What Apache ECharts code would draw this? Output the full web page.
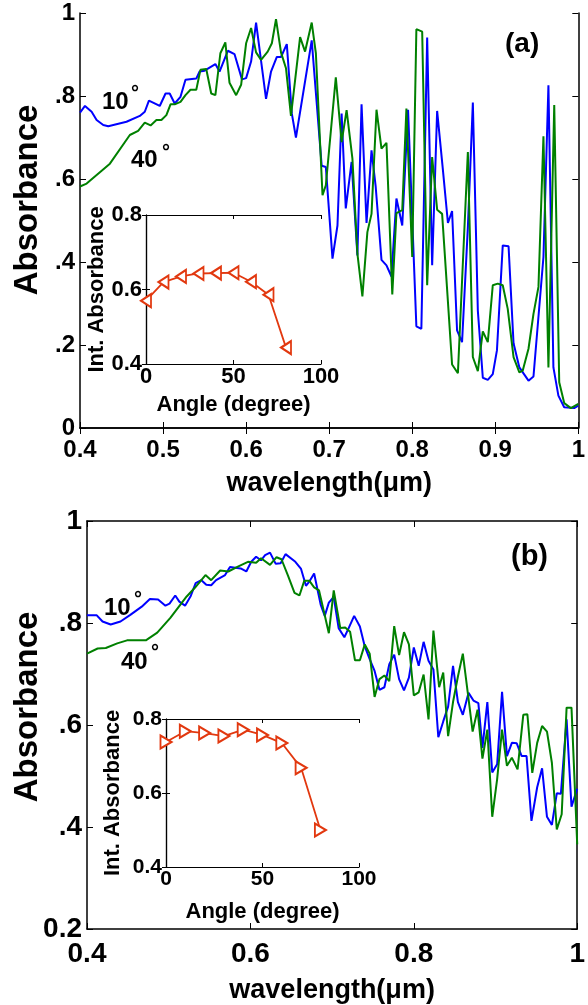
<!DOCTYPE html>
<html>
<head>
<meta charset="utf-8">
<script src="https://cdn.jsdelivr.net/npm/echarts@6/dist/echarts.min.js"></script>
<style>
  html, body { margin: 0; padding: 0; background: #fff; }
  #chart { width: 588px; height: 1005px; }
</style>
</head>
<body>
<div id="chart"></div>
<script>
// (a) 吸收谱 10° / 40°
const wlA10 = [0.400, 0.406, 0.414, 0.420, 0.428, 0.434, 0.456, 0.472, 0.478, 0.483, 0.496, 0.503, 0.508, 0.514, 0.521, 0.527, 0.540, 0.544, 0.550, 0.563, 0.568, 0.578, 0.586, 0.595, 0.600, 0.606, 0.612, 0.624, 0.630, 0.637, 0.642, 0.649, 0.655, 0.660, 0.679, 0.691, 0.696, 0.704, 0.710, 0.715, 0.720, 0.727, 0.734, 0.739, 0.745, 0.751, 0.756, 0.763, 0.769, 0.775, 0.781, 0.788, 0.795, 0.805, 0.811, 0.818, 0.824, 0.830, 0.837, 0.843, 0.848, 0.854, 0.860, 0.867, 0.873, 0.879, 0.885, 0.891, 0.897, 0.902, 0.909, 0.916, 0.922, 0.929, 0.940, 0.946, 0.958, 0.964, 0.970, 0.976, 0.983, 0.995, 1.000];
const absA10 = [0.760, 0.776, 0.762, 0.742, 0.730, 0.727, 0.738, 0.752, 0.762, 0.789, 0.776, 0.806, 0.806, 0.782, 0.798, 0.839, 0.842, 0.859, 0.861, 0.877, 0.859, 0.909, 0.901, 0.840, 0.843, 0.883, 0.977, 0.793, 0.859, 0.894, 0.894, 0.925, 0.758, 0.700, 0.934, 0.632, 0.629, 0.408, 0.488, 0.758, 0.529, 0.641, 0.416, 0.780, 0.494, 0.669, 0.582, 0.405, 0.392, 0.365, 0.553, 0.488, 0.767, 0.245, 0.239, 0.941, 0.392, 0.764, 0.621, 0.494, 0.523, 0.235, 0.207, 0.484, 0.784, 0.283, 0.121, 0.116, 0.130, 0.187, 0.440, 0.438, 0.204, 0.146, 0.114, 0.124, 0.412, 0.826, 0.146, 0.078, 0.050, 0.048, 0.054];

const wlA40 = [0.400, 0.408, 0.436, 0.460, 0.470, 0.478, 0.485, 0.492, 0.498, 0.504, 0.509, 0.514, 0.521, 0.527, 0.533, 0.540, 0.545, 0.552, 0.558, 0.563, 0.569, 0.575, 0.580, 0.588, 0.594, 0.600, 0.606, 0.612, 0.618, 0.626, 0.631, 0.636, 0.642, 0.648, 0.654, 0.665, 0.671, 0.679, 0.684, 0.692, 0.696, 0.708, 0.715, 0.721, 0.728, 0.734, 0.740, 0.746, 0.751, 0.757, 0.763, 0.769, 0.776, 0.781, 0.788, 0.793, 0.800, 0.805, 0.812, 0.818, 0.824, 0.830, 0.836, 0.848, 0.855, 0.867, 0.873, 0.879, 0.885, 0.891, 0.897, 0.903, 0.909, 0.915, 0.922, 0.929, 0.933, 0.940, 0.946, 0.952, 0.958, 0.964, 0.971, 0.977, 0.983, 0.991, 1.000];
const absA40 = [0.582, 0.589, 0.637, 0.706, 0.716, 0.736, 0.729, 0.742, 0.742, 0.754, 0.780, 0.780, 0.786, 0.802, 0.815, 0.815, 0.863, 0.865, 0.806, 0.802, 0.903, 0.929, 0.832, 0.802, 0.827, 0.927, 0.964, 0.905, 0.887, 0.907, 0.927, 0.985, 0.905, 0.867, 0.752, 0.942, 0.907, 0.977, 0.903, 0.561, 0.585, 0.845, 0.689, 0.766, 0.649, 0.420, 0.317, 0.472, 0.516, 0.767, 0.673, 0.687, 0.322, 0.518, 0.525, 0.770, 0.412, 0.961, 0.955, 0.344, 0.653, 0.526, 0.516, 0.153, 0.132, 0.665, 0.171, 0.137, 0.233, 0.207, 0.344, 0.348, 0.344, 0.287, 0.171, 0.134, 0.138, 0.191, 0.275, 0.340, 0.703, 0.146, 0.778, 0.110, 0.060, 0.048, 0.058];

// (b) 吸收谱 10° / 40°
const wlB10 = [0.400, 0.412, 0.419, 0.429, 0.441, 0.453, 0.467, 0.477, 0.487, 0.496, 0.501, 0.508, 0.513, 0.520, 0.527, 0.533, 0.540, 0.546, 0.552, 0.558, 0.569, 0.575, 0.588, 0.595, 0.601, 0.607, 0.613, 0.618, 0.624, 0.631, 0.637, 0.643, 0.655, 0.662, 0.668, 0.672, 0.678, 0.686, 0.691, 0.696, 0.702, 0.708, 0.715, 0.720, 0.727, 0.734, 0.740, 0.746, 0.752, 0.758, 0.764, 0.770, 0.776, 0.782, 0.788, 0.794, 0.800, 0.806, 0.812, 0.818, 0.824, 0.830, 0.836, 0.842, 0.848, 0.854, 0.860, 0.867, 0.873, 0.879, 0.884, 0.890, 0.896, 0.902, 0.908, 0.914, 0.920, 0.926, 0.932, 0.938, 0.944, 0.951, 0.957, 0.963, 0.969, 0.975, 0.980, 0.987, 0.993, 1.000];
const absB10 = [0.815, 0.815, 0.803, 0.797, 0.803, 0.816, 0.832, 0.847, 0.846, 0.834, 0.838, 0.854, 0.842, 0.834, 0.853, 0.878, 0.884, 0.875, 0.874, 0.884, 0.894, 0.910, 0.907, 0.901, 0.920, 0.930, 0.923, 0.933, 0.938, 0.916, 0.917, 0.935, 0.920, 0.906, 0.873, 0.881, 0.897, 0.836, 0.814, 0.840, 0.851, 0.790, 0.772, 0.789, 0.814, 0.793, 0.754, 0.729, 0.706, 0.669, 0.674, 0.719, 0.738, 0.690, 0.668, 0.693, 0.752, 0.716, 0.763, 0.726, 0.709, 0.576, 0.607, 0.636, 0.716, 0.645, 0.620, 0.663, 0.648, 0.643, 0.555, 0.645, 0.507, 0.523, 0.665, 0.539, 0.565, 0.564, 0.539, 0.539, 0.412, 0.478, 0.515, 0.420, 0.404, 0.466, 0.465, 0.611, 0.440, 0.475];

const wlB40 = [0.400, 0.413, 0.423, 0.437, 0.449, 0.472, 0.486, 0.502, 0.522, 0.532, 0.545, 0.552, 0.563, 0.573, 0.584, 0.597, 0.607, 0.613, 0.624, 0.632, 0.638, 0.646, 0.654, 0.660, 0.666, 0.672, 0.678, 0.684, 0.690, 0.696, 0.702, 0.710, 0.716, 0.722, 0.728, 0.734, 0.740, 0.746, 0.752, 0.758, 0.764, 0.770, 0.776, 0.782, 0.788, 0.794, 0.800, 0.806, 0.812, 0.818, 0.824, 0.831, 0.836, 0.842, 0.848, 0.854, 0.860, 0.866, 0.872, 0.878, 0.884, 0.890, 0.896, 0.902, 0.908, 0.914, 0.920, 0.927, 0.934, 0.939, 0.945, 0.951, 0.957, 0.963, 0.969, 0.975, 0.981, 0.987, 0.993, 1.000];
const absB40 = [0.740, 0.750, 0.751, 0.760, 0.766, 0.766, 0.781, 0.810, 0.852, 0.869, 0.894, 0.884, 0.903, 0.901, 0.910, 0.920, 0.918, 0.927, 0.914, 0.929, 0.925, 0.893, 0.859, 0.854, 0.883, 0.883, 0.870, 0.864, 0.822, 0.780, 0.864, 0.790, 0.791, 0.783, 0.727, 0.727, 0.758, 0.740, 0.655, 0.690, 0.697, 0.686, 0.794, 0.737, 0.782, 0.758, 0.658, 0.664, 0.699, 0.611, 0.785, 0.674, 0.703, 0.578, 0.645, 0.695, 0.740, 0.664, 0.587, 0.630, 0.534, 0.591, 0.420, 0.494, 0.591, 0.520, 0.536, 0.513, 0.620, 0.621, 0.506, 0.565, 0.598, 0.587, 0.526, 0.395, 0.425, 0.634, 0.634, 0.366];

// 插图：积分吸收率与入射角
const angles = [0, 10, 20, 30, 40, 50, 60, 70, 80];
const intAbsA = [0.570, 0.620, 0.635, 0.643, 0.644, 0.645, 0.621, 0.586, 0.444];
const intAbsB = [0.738, 0.767, 0.762, 0.754, 0.771, 0.757, 0.735, 0.668, 0.500];

// 刻度文字
const xTicksA = ['0.4', '0.5', '0.6', '0.7', '0.8', '0.9', '1'];
const yTicksA = ['0', '.2', '.4', '.6', '.8', '1'];
const xTicksB = ['0.4', '0.6', '0.8', '1'];
const yTicksB = ['0.2', '.4', '.6', '.8', '1'];
const insetXTicks = ['0', '50', '100'];
const insetYTicks = ['0.4', '0.6', '0.8'];

const FONT = "'Liberation Sans', Arial, sans-serif";
const RED = '#e2380f';

function zip(xs, ys) {
  return xs.map((x, i) => [x, ys[i]]);
}

function pick(list, v, start, step) {
  return list[Math.round((v - start) / step)] || '';
}

// 一组四边坐标轴（带刻度的黑框）
function boxAxes(gridIndex, xr, yr, o) {
  const tickX = { show: true, inside: true, length: o.tick, lineStyle: { color: '#000', width: 1 } };
  const line = { show: true, lineStyle: { color: '#000', width: o.lw } };
  const xs = [
    {
      type: 'value', gridIndex, position: 'bottom', min: xr[0], max: xr[1], interval: xr[2],
      axisLine: line, axisTick: tickX, splitLine: { show: false },
      axisLabel: {
        show: true, margin: o.xMargin, color: '#000', fontFamily: FONT, fontWeight: 'bold', fontSize: o.tickFont,
        formatter: v => pick(o.xTicks, v, xr[0], xr[2])
      },
      name: o.xName, nameLocation: 'middle', nameGap: o.xNameGap,
      nameTextStyle: { color: '#000', fontFamily: FONT, fontWeight: 'bold', fontSize: o.nameFont }
    },
    {
      type: 'value', gridIndex, position: 'top', min: xr[0], max: xr[1], interval: xr[2],
      axisLine: line, axisTick: tickX, axisLabel: { show: false }, splitLine: { show: false }
    }
  ];
  const ys = [
    {
      type: 'value', gridIndex, position: 'left', min: yr[0], max: yr[1], interval: yr[2],
      axisLine: line, axisTick: tickX, splitLine: { show: false },
      axisLabel: {
        show: true, margin: o.yMargin, color: '#000', fontFamily: FONT, fontWeight: 'bold', fontSize: o.yTickFont || o.tickFont,
        formatter: v => pick(o.yTicks, v, yr[0], yr[2])
      },
      name: o.yName || '', nameLocation: 'middle', nameGap: o.yNameGap || 0,
      nameTextStyle: { color: '#000', fontFamily: FONT, fontWeight: 'bold', fontSize: o.nameFont }
    },
    {
      type: 'value', gridIndex, position: 'right', min: yr[0], max: yr[1], interval: yr[2],
      axisLine: line, axisTick: tickX, axisLabel: { show: false }, splitLine: { show: false }
    }
  ];
  return { xs, ys };
}

const axA = boxAxes(0, [0.4, 1, 0.1], [0, 1, 0.2], {
  lw: 1.5, tick: 6, tickFont: 24, xMargin: 10, yMargin: 5, nameFont: 27,
  xTicks: xTicksA, yTicks: yTicksA, xName: 'wavelength(μm)', xNameGap: 42
});
const axAi = boxAxes(1, [0, 100, 50], [0.4, 0.8, 0.2], {
  lw: 1.2, tick: 4, tickFont: 22, xMargin: 2, yMargin: 4, nameFont: 22,
  xTicks: insetXTicks, yTicks: insetYTicks, xName: 'Angle (degree)', xNameGap: 30,
  yName: 'Int. Absorbance', yNameGap: 38
});
const axB = boxAxes(2, [0.4, 1, 0.2], [0.2, 1, 0.2], {
  lw: 1.5, tick: 6, tickFont: 28, xMargin: 11, yMargin: 5, nameFont: 27,
  xTicks: xTicksB, yTicks: yTicksB, xName: 'wavelength(μm)', xNameGap: 48
});
const axBi = boxAxes(3, [0, 100, 50], [0.4, 0.8, 0.2], {
  lw: 1.2, tick: 4, tickFont: 21, xMargin: 2, yMargin: 4, nameFont: 22,
  xTicks: insetXTicks, yTicks: insetYTicks, xName: 'Angle (degree)', xNameGap: 34,
  yName: 'Int. Absorbance', yNameGap: 42
});

function textEl(text, x, y, size, rot) {
  return {
    type: 'text', x, y, rotation: rot || 0, z: 100,
    style: {
      text, fill: '#000', font: 'bold ' + size + 'px ' + FONT,
      textAlign: rot ? 'center' : 'left', textVerticalAlign: 'middle'
    }
  };
}

const chart = echarts.init(document.getElementById('chart'), null, { renderer: 'canvas' });

const option = {
  animation: false,
  backgroundColor: '#fff',
  grid: [
    { left: 80, top: 13, width: 501, height: 415 },
    { left: 146, top: 215, width: 175, height: 149, show: true, backgroundColor: '#fff', borderWidth: 0 },
    { left: 87, top: 521, width: 500, height: 415 },
    { left: 166, top: 719, width: 193, height: 148, show: true, backgroundColor: '#fff', borderWidth: 0 }
  ],
  xAxis: [...axA.xs, ...axAi.xs, ...axB.xs, ...axBi.xs],
  yAxis: [...axA.ys, ...axAi.ys, ...axB.ys, ...axBi.ys],
  series: [
    {
      name: '10°', type: 'line', xAxisIndex: 0, yAxisIndex: 0, showSymbol: false,
      lineStyle: { color: '#0000ff', width: 2 }, data: zip(wlA10, absA10)
    },
    {
      name: '40°', type: 'line', xAxisIndex: 0, yAxisIndex: 0, showSymbol: false,
      lineStyle: { color: '#008000', width: 2 }, data: zip(wlA40, absA40)
    },
    {
      type: 'line', xAxisIndex: 2, yAxisIndex: 2, symbol: 'emptyTriangle', symbolSize: [13, 10], symbolRotate: 90,
      lineStyle: { color: RED, width: 1.8 }, itemStyle: { color: RED, borderWidth: 1.5 },
      data: zip(angles, intAbsA)
    },
    {
      name: '10°', type: 'line', xAxisIndex: 4, yAxisIndex: 4, showSymbol: false,
      lineStyle: { color: '#0000ff', width: 2 }, data: zip(wlB10, absB10)
    },
    {
      name: '40°', type: 'line', xAxisIndex: 4, yAxisIndex: 4, showSymbol: false,
      lineStyle: { color: '#008000', width: 2 }, data: zip(wlB40, absB40)
    },
    {
      type: 'line', xAxisIndex: 6, yAxisIndex: 6, symbol: 'emptyTriangle', symbolSize: [13, 11], symbolRotate: -90,
      lineStyle: { color: RED, width: 1.8 }, itemStyle: { color: RED, borderWidth: 1.5 },
      data: zip(angles, intAbsB)
    }
  ],
  graphic: [
    textEl('Absorbance', 28, 200, 33, Math.PI / 2),
    textEl('Absorbance', 28, 707, 33, Math.PI / 2),
    textEl('(a)', 505, 44, 28),
    textEl('(b)', 511, 557, 29),
    textEl('10', 102, 102, 24),
    textEl('°', 131, 93, 20),
    textEl('40', 131, 160, 24),
    textEl('°', 162, 152, 20),
    textEl('10', 104, 608, 24),
    textEl('°', 134, 599, 20),
    textEl('40', 121, 662, 24),
    textEl('°', 151, 652, 20)
  ]
};

chart.setOption(option);
</script>
</body>
</html>
